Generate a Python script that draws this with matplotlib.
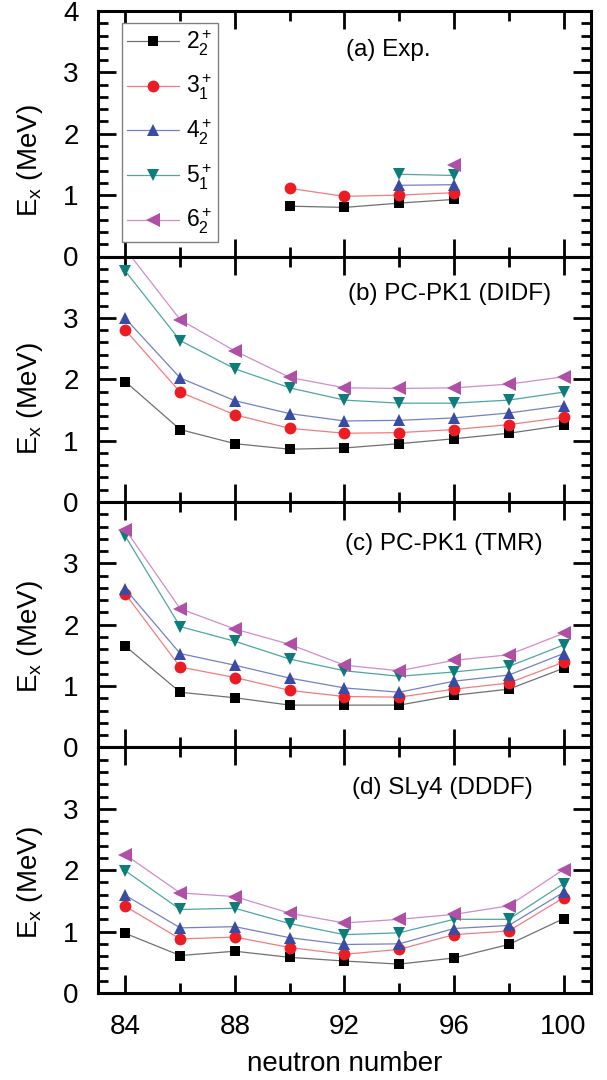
import numpy as np
import matplotlib
matplotlib.use("Agg")
import matplotlib.pyplot as plt
from matplotlib.ticker import MultipleLocator

plt.rcParams["font.family"] = ["Liberation Sans", "DejaVu Sans"]
plt.rcParams["mathtext.fontset"] = "custom"
plt.rcParams["mathtext.rm"] = "Liberation Sans"
plt.rcParams["mathtext.it"] = "Liberation Sans:italic"
plt.rcParams["mathtext.bf"] = "Liberation Sans:bold"

# neutron numbers
N_exp = [90, 92, 94, 96]
N_calc = [84, 86, 88, 90, 92, 94, 96, 98, 100]

# (a) experiment
exp_22 = [0.82, 0.80, 0.87, 0.93]
exp_31 = [1.11, 0.98, 1.00, 1.04]
exp_42 = [1.16, 1.17]
exp_51 = [1.34, 1.32]
exp_62 = [1.49]

# (b) PC-PK1 (DIDF)
didf_22 = [1.96, 1.18, 0.95, 0.86, 0.88, 0.95, 1.03, 1.12, 1.25]
didf_31 = [2.80, 1.79, 1.42, 1.20, 1.12, 1.13, 1.18, 1.26, 1.38]
didf_42 = [2.99, 2.02, 1.65, 1.44, 1.32, 1.33, 1.37, 1.45, 1.57]
didf_51 = [3.76, 2.63, 2.17, 1.86, 1.66, 1.61, 1.61, 1.66, 1.79]
didf_62 = [4.12, 2.97, 2.46, 2.03, 1.86, 1.85, 1.86, 1.92, 2.04]

# (c) PC-PK1 (TMR)
tmr_22 = [1.65, 0.90, 0.81, 0.69, 0.69, 0.69, 0.85, 0.95, 1.29]
tmr_31 = [2.50, 1.31, 1.14, 0.93, 0.83, 0.82, 0.95, 1.05, 1.39]
tmr_42 = [2.58, 1.53, 1.34, 1.13, 0.97, 0.90, 1.08, 1.18, 1.53]
tmr_51 = [3.44, 1.97, 1.73, 1.44, 1.25, 1.16, 1.23, 1.32, 1.67]
tmr_62 = [3.55, 2.26, 1.93, 1.68, 1.34, 1.25, 1.42, 1.51, 1.86]

# (d) SLy4 (DDDF)
sly_22 = [0.97, 0.61, 0.68, 0.58, 0.52, 0.47, 0.57, 0.79, 1.21]
sly_31 = [1.41, 0.88, 0.91, 0.74, 0.63, 0.71, 0.95, 1.01, 1.55]
sly_42 = [1.59, 1.06, 1.08, 0.90, 0.79, 0.80, 1.05, 1.10, 1.64]
sly_51 = [1.99, 1.36, 1.38, 1.13, 0.95, 0.98, 1.20, 1.20, 1.78]
sly_62 = [2.25, 1.63, 1.57, 1.30, 1.14, 1.20, 1.28, 1.42, 2.01]

state_labels = [r"$\mathregular{2^+_2}$", r"$\mathregular{3^+_1}$", r"$\mathregular{4^+_2}$",
                r"$\mathregular{5^+_1}$", r"$\mathregular{6^+_2}$"]
panel_titles = ["(a) Exp.", "(b) PC-PK1 (DIDF)", "(c) PC-PK1 (TMR)", "(d) SLy4 (DDDF)"]

# style per state
markers = ["s", "o", "^", "v", "<"]
msizes = [7.5, 8.5, 9, 9, 9.5]
mcolors = ["#000000", "#EC1C24", "#3A4BA3", "#0E7C7B", "#B04FA6"]
lcolors = ["#707070", "#F27C80", "#7480C4", "#4FA6A0", "#D08CCB"]

panels = [
    [(N_exp, exp_22), (N_exp, exp_31), (N_exp[2:], exp_42), (N_exp[2:], exp_51), (N_exp[3:], exp_62)],
    [(N_calc, didf_22), (N_calc, didf_31), (N_calc, didf_42), (N_calc, didf_51), (N_calc, didf_62)],
    [(N_calc, tmr_22), (N_calc, tmr_31), (N_calc, tmr_42), (N_calc, tmr_51), (N_calc, tmr_62)],
    [(N_calc, sly_22), (N_calc, sly_31), (N_calc, sly_42), (N_calc, sly_51), (N_calc, sly_62)],
]
title_pos = [(0.504, 0.84), (0.508, 0.848), (0.501, 0.829), (0.515, 0.833)]
ylabel_y = [0.39, 0.42, 0.45, 0.45]

fig, axes = plt.subplots(4, 1, sharex=True, figsize=(6.07, 10.8), dpi=100)
fig.subplots_adjust(left=0.1615, right=0.9735, top=0.9898, bottom=0.0806, hspace=0)

for k, ax in enumerate(axes):
    for i, (xs, ys) in enumerate(panels[k]):
        ax.plot(xs, ys, color=lcolors[i], lw=0.9, marker=markers[i], ms=msizes[i],
                mfc=mcolors[i], mec=mcolors[i], mew=0, label=state_labels[i])
    ax.set_xlim(83, 101)
    ax.set_ylim(0, 4)
    ax.xaxis.set_major_locator(MultipleLocator(4))
    ax.xaxis.set_minor_locator(MultipleLocator(2))
    ax.yaxis.set_major_locator(MultipleLocator(1))
    ax.yaxis.set_minor_locator(MultipleLocator(0.2))
    ax.tick_params(which="both", direction="in", top=True, right=True, width=2, labelsize=20)
    ax.tick_params(which="major", length=13)
    ax.tick_params(which="minor", length=7)
    ax.tick_params(axis="y", pad=14)
    ax.tick_params(axis="x", pad=15)
    for sp in ax.spines.values():
        sp.set_linewidth(2.2)
    if k > 0:
        ax.set_yticks([0, 1, 2, 3])
        ax.set_ylim(0, 4)
    ax.text(title_pos[k][0], title_pos[k][1], panel_titles[k], transform=ax.transAxes,
            ha="left", va="center", fontsize=17.5)
    ax.set_ylabel(r"E$_\mathregular{x}$ (MeV)", fontsize=20)
    ax.yaxis.set_label_coords(-0.107, ylabel_y[k])

leg = axes[0].legend(loc="upper left", bbox_to_anchor=(0.048, 0.952), fontsize=16.5,
                     handlelength=2.25, handletextpad=0.3, labelspacing=0.66, borderpad=0.25,
                     borderaxespad=0, fancybox=False, framealpha=1)
leg.get_frame().set_edgecolor("#808080")
leg.get_frame().set_linewidth(1.0)

axes[-1].set_xlabel("neutron number", fontsize=20, labelpad=8)

fig.savefig("out.png", dpi=100)
